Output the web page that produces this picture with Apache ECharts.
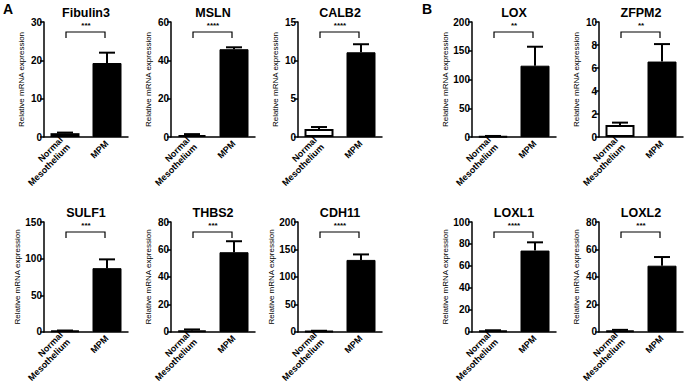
<!DOCTYPE html>
<html>
<head>
<meta charset="utf-8">
<script src="https://cdn.jsdelivr.net/npm/echarts@6/dist/echarts.min.js"></script>
<style>
html,body{margin:0;padding:0;background:#fff;}
#chart{width:685px;height:385px;}
</style>
</head>
<body>
<div id="chart"></div>
<script>
// ---- data ----
const genes = ['Fibulin3', 'MSLN', 'CALB2', 'LOX', 'ZFPM2', 'SULF1', 'THBS2', 'CDH11', 'LOXL1', 'LOXL2'];
const categories = ['Normal\nMesothelium', 'MPM'];
const normalMean = [1.0, 1.0, 1.05, 1.0, 1.05, 1.5, 1.0, 1.5, 1.0, 1.0];
const normalErr  = [0.15, 0.5, 0.25, 0.8, 0.2, 0.4, 0.8, 0.6, 0.5, 0.5];
const mpmMean    = [19.3, 45.8, 11.05, 124, 6.56, 87, 58, 131, 74, 48.2];
const mpmErr     = [2.7, 1.0, 1.05, 33, 1.52, 12, 8, 10, 7.5, 6.3];
const yMax       = [30, 60, 15, 200, 10, 150, 80, 200, 100, 80];
const yInterval  = [10, 20, 5, 50, 2, 50, 20, 50, 20, 20];
const significance = ['***', '****', '****', '**', '**', '***', '****', '****', '****', '***'];
significance[6] = '***';
const yAxisTitle = 'Relative mRNA expression';
const panelLetters = ['A', 'B'];

// ---- layout ----
const axisXs = [43, 170, 297, 471, 598];
const rowTops = [22, 222];
const plotH = 115;
const plotW = 84;
const FONT = 'Arial, "Liberation Sans", Helvetica, sans-serif';

const chart = echarts.init(document.getElementById('chart'), null, {renderer: 'svg'});

const grids = [], xAxes = [], yAxes = [], series = [], graphics = [];

genes.forEach((g, i) => {
  const row = i < 5 ? 0 : 1;
  const col = i % 5;
  const left = axisXs[col] + 1;
  const top = rowTops[row];
  grids.push({left: left, top: top, width: plotW, height: plotH, containLabel: false});
  xAxes.push({
    type: 'category', gridIndex: i, data: categories,
    axisLine: {lineStyle: {color: '#000', width: 1.5}},
    axisTick: {alignWithLabel: true, length: 4, lineStyle: {color: '#000', width: 1.5}},
    axisLabel: {rotate: 45, fontSize: 9, fontWeight: 'bold', color: '#000', fontFamily: FONT, margin: 5, lineHeight: 10, interval: 0}
  });
  yAxes.push({
    type: 'value', gridIndex: i, min: 0, max: yMax[i], interval: yInterval[i],
    splitLine: {show: false},
    axisLine: {show: true, lineStyle: {color: '#000', width: 1.5}},
    axisTick: {show: true, length: 4, lineStyle: {color: '#000', width: 1.5}},
    axisLabel: {fontSize: 10, fontWeight: 'bold', color: '#000', fontFamily: FONT, margin: 2},
    name: yAxisTitle, nameLocation: 'middle', nameGap: 19,
    nameTextStyle: {fontSize: 8, color: '#000', fontFamily: FONT}
  });
  series.push({
    type: 'bar', xAxisIndex: i, yAxisIndex: i, barWidth: 29, z: 2,
    data: [
      {value: normalMean[i], itemStyle: {color: '#fff', borderColor: '#000', borderWidth: 2}},
      {value: mpmMean[i], itemStyle: {color: '#000', borderColor: '#000', borderWidth: 1}}
    ]
  });
  // error bars
  series.push({
    type: 'custom', xAxisIndex: i, yAxisIndex: i, z: 3, clip: false,
    data: [[0, normalMean[i], normalMean[i] + normalErr[i]], [1, mpmMean[i], mpmMean[i] + mpmErr[i]]],
    renderItem: function (params, api) {
      const x = api.value(0);
      const p0 = api.coord([x, api.value(1)]);
      const p1 = api.coord([x, api.value(2)]);
      const hw = 8;
      return {
        type: 'group', children: [
          {type: 'line', shape: {x1: p0[0], y1: p0[1], x2: p1[0], y2: p1[1]}, style: {stroke: '#000', lineWidth: 2}},
          {type: 'line', shape: {x1: p1[0] - hw, y1: p1[1], x2: p1[0] + hw, y2: p1[1]}, style: {stroke: '#000', lineWidth: 2}}
        ]
      };
    }
  });
  // significance bracket
  series.push({
    type: 'custom', xAxisIndex: i, yAxisIndex: i, z: 3, clip: false,
    data: [[0, yMax[i]]],
    renderItem: function (params, api) {
      const a = api.coord([0, api.value(1)]);
      const b = api.coord([1, api.value(1)]);
      const y = a[1] + 10;
      return {
        type: 'group', children: [
          {type: 'polyline', shape: {points: [[a[0] + 1, y + 6], [a[0] + 1, y], [b[0] - 2, y], [b[0] - 2, y + 6]]},
           style: {stroke: '#000', lineWidth: 1.2, fill: null}},
          {type: 'text', style: {text: significance[i], x: (a[0] + b[0]) / 2, y: y - 3, textAlign: 'center', textVerticalAlign: 'bottom',
            fontSize: 8, fontWeight: 'bold', fill: '#000', fontFamily: FONT}}
        ]
      };
    }
  });
  graphics.push({
    type: 'text', left: left + plotW / 2 - 0, top: top - 16,
    style: {text: g, fontSize: 12.5, fontWeight: 'bold', fill: '#000', fontFamily: FONT, textAlign: 'center'}
  });
});

// center titles using x/y rather than left
const titleGraphics = genes.map((g, i) => {
  const row = i < 5 ? 0 : 1;
  const col = i % 5;
  return {
    type: 'text', x: axisXs[col] + 1 + plotW / 2, y: rowTops[row] - 9,
    style: {text: g, fontSize: 12.5, fontWeight: 'bold', fill: '#000', fontFamily: FONT, align: 'center', verticalAlign: 'middle'}
  };
});
titleGraphics.push({type: 'text', x: 3, y: 9, style: {text: panelLetters[0], fontSize: 14, fontWeight: 'bold', fill: '#000', fontFamily: FONT, align: 'left', verticalAlign: 'middle'}});
titleGraphics.push({type: 'text', x: 422, y: 9, style: {text: panelLetters[1], fontSize: 14, fontWeight: 'bold', fill: '#000', fontFamily: FONT, align: 'left', verticalAlign: 'middle'}});

chart.setOption({
  animation: false,
  backgroundColor: '#fff',
  grid: grids, xAxis: xAxes, yAxis: yAxes, series: series,
  graphic: titleGraphics
});
</script>
</body>
</html>
